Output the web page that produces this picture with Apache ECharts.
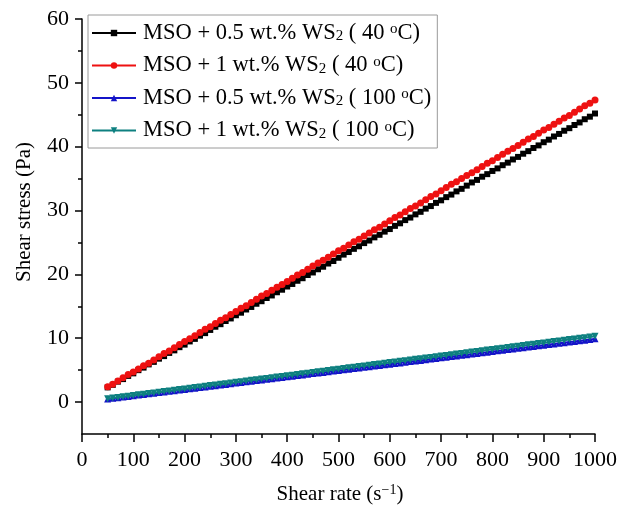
<!DOCTYPE html>
<html>
<head>
<meta charset="utf-8">
<script src="https://cdn.jsdelivr.net/npm/echarts@6/dist/echarts.min.js"></script>
<style>
html, body { margin: 0; padding: 0; background: #ffffff; }
#chart { width: 620px; height: 505px; }
</style>
</head>
<body>
<div id="chart"></div>
<script>
// Shear rate (s^-1) at which each stress reading was taken
const shearRate = [
  50, 60, 70, 80, 90, 100, 110, 120, 130, 140, 150, 160, 170, 180, 190, 200,
  210, 220, 230, 240, 250, 260, 270, 280, 290, 300, 310, 320, 330, 340, 350, 360,
  370, 380, 390, 400, 410, 420, 430, 440, 450, 460, 470, 480, 490, 500, 510, 520,
  530, 540, 550, 560, 570, 580, 590, 600, 610, 620, 630, 640, 650, 660, 670, 680,
  690, 700, 710, 720, 730, 740, 750, 760, 770, 780, 790, 800, 810, 820, 830, 840,
  850, 860, 870, 880, 890, 900, 910, 920, 930, 940, 950, 960, 970, 980, 990, 1000
];

// Shear stress (Pa), MSO + 0.5 wt.% WS2 at 40 °C
const stressHalf40 = [
  2.3, 2.7, 3.2, 3.6, 4.1, 4.5, 5.0, 5.4, 5.9, 6.3, 6.8, 7.2, 7.7, 8.1, 8.6, 9.0,
  9.5, 9.9, 10.4, 10.8, 11.3, 11.8, 12.2, 12.7, 13.1, 13.6, 14.0, 14.5, 14.9, 15.4, 15.8, 16.3,
  16.7, 17.2, 17.6, 18.1, 18.5, 19.0, 19.4, 19.9, 20.3, 20.8, 21.2, 21.7, 22.1, 22.6, 23.1, 23.5,
  24.0, 24.4, 24.9, 25.3, 25.8, 26.2, 26.7, 27.1, 27.6, 28.0, 28.5, 28.9, 29.4, 29.8, 30.3, 30.7,
  31.2, 31.6, 32.1, 32.5, 33.0, 33.4, 33.9, 34.4, 34.8, 35.3, 35.7, 36.2, 36.6, 37.1, 37.5, 38.0,
  38.4, 38.9, 39.3, 39.8, 40.2, 40.7, 41.1, 41.6, 42.0, 42.5, 42.9, 43.4, 43.8, 44.3, 44.7, 45.2
];

// Shear stress (Pa), MSO + 1 wt.% WS2 at 40 °C
const stressOne40 = [
  2.4, 2.8, 3.3, 3.8, 4.3, 4.7, 5.2, 5.7, 6.1, 6.6, 7.1, 7.6, 8.0, 8.5, 9.0, 9.5,
  9.9, 10.4, 10.9, 11.4, 11.8, 12.3, 12.8, 13.2, 13.7, 14.2, 14.7, 15.1, 15.6, 16.1, 16.6, 17.0,
  17.5, 18.0, 18.4, 18.9, 19.4, 19.9, 20.3, 20.8, 21.3, 21.8, 22.2, 22.7, 23.2, 23.7, 24.1, 24.6,
  25.1, 25.5, 26.0, 26.5, 27.0, 27.4, 27.9, 28.4, 28.9, 29.3, 29.8, 30.3, 30.7, 31.2, 31.7, 32.2,
  32.6, 33.1, 33.6, 34.1, 34.5, 35.0, 35.5, 35.9, 36.4, 36.9, 37.4, 37.8, 38.3, 38.8, 39.3, 39.7,
  40.2, 40.7, 41.2, 41.6, 42.1, 42.6, 43.0, 43.5, 44.0, 44.5, 44.9, 45.4, 45.9, 46.4, 46.8, 47.3
];

// Shear stress (Pa), MSO + 0.5 wt.% WS2 at 100 °C
const stressHalf100 = [
  0.50, 0.59, 0.69, 0.79, 0.89, 0.99, 1.09, 1.19, 1.29, 1.39, 1.49, 1.58, 1.68, 1.78, 1.88, 1.98,
  2.08, 2.18, 2.28, 2.38, 2.48, 2.57, 2.67, 2.77, 2.87, 2.97, 3.07, 3.17, 3.27, 3.37, 3.47, 3.56,
  3.66, 3.76, 3.86, 3.96, 4.06, 4.16, 4.26, 4.36, 4.46, 4.55, 4.65, 4.75, 4.85, 4.95, 5.05, 5.15,
  5.25, 5.35, 5.45, 5.54, 5.64, 5.74, 5.84, 5.94, 6.04, 6.14, 6.24, 6.34, 6.44, 6.53, 6.63, 6.73,
  6.83, 6.93, 7.03, 7.13, 7.23, 7.33, 7.43, 7.52, 7.62, 7.72, 7.82, 7.92, 8.02, 8.12, 8.22, 8.32,
  8.42, 8.51, 8.61, 8.71, 8.81, 8.91, 9.01, 9.11, 9.21, 9.31, 9.41, 9.50, 9.60, 9.70, 9.80, 9.90
];

// Shear stress (Pa), MSO + 1 wt.% WS2 at 100 °C
const stressOne100 = [
  0.52, 0.62, 0.72, 0.82, 0.93, 1.03, 1.13, 1.24, 1.34, 1.44, 1.55, 1.65, 1.75, 1.85, 1.96, 2.06,
  2.16, 2.27, 2.37, 2.47, 2.58, 2.68, 2.78, 2.88, 2.99, 3.09, 3.19, 3.30, 3.40, 3.50, 3.61, 3.71,
  3.81, 3.91, 4.02, 4.12, 4.22, 4.33, 4.43, 4.53, 4.64, 4.74, 4.84, 4.94, 5.05, 5.15, 5.25, 5.36,
  5.46, 5.56, 5.67, 5.77, 5.87, 5.97, 6.08, 6.18, 6.28, 6.39, 6.49, 6.59, 6.70, 6.80, 6.90, 7.00,
  7.11, 7.21, 7.31, 7.42, 7.52, 7.62, 7.73, 7.83, 7.93, 8.03, 8.14, 8.24, 8.34, 8.45, 8.55, 8.65,
  8.76, 8.86, 8.96, 9.06, 9.17, 9.27, 9.37, 9.48, 9.58, 9.68, 9.79, 9.89, 9.99, 10.09, 10.20, 10.30
];

const seriesNames = [
  'MSO + 0.5 wt.% WS{sub|2} ( 40 {sup|o}C)',
  'MSO + 1 wt.% WS{sub|2} ( 40 {sup|o}C)',
  'MSO + 0.5 wt.% WS{sub|2} ( 100 {sup|o}C)',
  'MSO + 1 wt.% WS{sub|2} ( 100 {sup|o}C)'
];

const yMajorTicks = [0, 10, 20, 30, 40, 50, 60];
const yMinorTicks = [5, 15, 25, 35, 45, 55];

const FONT = '"Liberation Serif", "Times New Roman", serif';

function pairs(ys) {
  return shearRate.map((x, i) => [x, ys[i]]);
}

const chart = echarts.init(document.getElementById('chart'), null, { renderer: 'canvas' });

const styles = [
  { color: '#000000', symbol: 'rect', size: 6, rotate: 0, data: stressHalf40 },
  { color: '#ee1111', symbol: 'circle', size: 7, rotate: 0, data: stressOne40 },
  { color: '#1414c8', symbol: 'triangle', size: 7, rotate: 0, data: stressHalf100 },
  { color: '#0e8080', symbol: 'triangle', size: 7, rotate: 180, data: stressOne100 }
];

const yBase = {
  type: 'value',
  min: -5,
  max: 60,
  position: 'left',
  splitLine: { show: false }
};

chart.setOption({
  animation: false,
  backgroundColor: '#ffffff',
  grid: { left: 82, right: 23, top: 19, bottom: 71, containLabel: false },
  legend: {
    orient: 'vertical',
    left: 88,
    top: 15,
    padding: [5, 6, 6, 3],
    itemGap: 8,
    itemWidth: 44,
    itemHeight: 8,
    borderColor: '#9a9a9a',
    borderWidth: 1,
    backgroundColor: '#ffffff',
    formatter: name => name,
    textStyle: {
      fontFamily: FONT,
      fontSize: 22.5,
      color: '#000',
      lineHeight: 22,
      padding: [0, 0, 0, 2],
      rich: {
        sub: { fontFamily: FONT, fontSize: 15, lineHeight: 12, verticalAlign: 'bottom', padding: [9, 0, 0, 0], color: '#000' },
        sup: { fontFamily: FONT, fontSize: 15, lineHeight: 12, verticalAlign: 'top', padding: [0, 0, 7, 0], color: '#000' }
      }
    },
    data: seriesNames
  },
  xAxis: {
    type: 'value',
    min: 0,
    max: 1000,
    interval: 100,
    axisLine: { onZero: false, lineStyle: { color: '#000', width: 1.5 } },
    axisTick: { show: true, inside: false, length: 8, lineStyle: { color: '#000', width: 1.5 } },
    minorTick: { show: true, splitNumber: 2, length: 4, lineStyle: { color: '#000', width: 1.5 } },
    axisLabel: { fontFamily: FONT, fontSize: 22, color: '#000', margin: 15, formatter: v => String(v) },
    splitLine: { show: false }
  },
  yAxis: [
    Object.assign({}, yBase, {
      axisLine: { show: true, lineStyle: { color: '#000', width: 1.5 } },
      axisTick: { show: true, inside: false, length: 7, customValues: yMajorTicks, lineStyle: { color: '#000', width: 1.5 } },
      axisLabel: { fontFamily: FONT, fontSize: 22, color: '#000', margin: 13, customValues: yMajorTicks }
    }),
    Object.assign({}, yBase, {
      axisLine: { show: false },
      axisTick: { show: true, inside: false, length: 4, customValues: yMinorTicks, lineStyle: { color: '#000', width: 1.5 } },
      axisLabel: { show: false }
    })
  ],
  graphic: [
    {
      type: 'text',
      x: 340,
      y: 494,
      style: {
        text: 'Shear rate (s{sup|\u22121})',
        fontFamily: FONT,
        fontSize: 21,
        fill: '#000',
        align: 'center',
        verticalAlign: 'middle',
        rich: {
          sup: { fontFamily: FONT, fontSize: 14, fill: '#000', verticalAlign: 'top', padding: [0, 0, 8, 0] }
        }
      }
    },
    {
      type: 'text',
      x: 24,
      y: 212,
      rotation: Math.PI / 2,
      style: {
        text: 'Shear stress (Pa)',
        fontFamily: FONT,
        fontSize: 21,
        fill: '#000',
        align: 'center',
        verticalAlign: 'middle'
      }
    }
  ],
  series: styles.map((s, i) => ({
    name: seriesNames[i],
    type: 'line',
    yAxisIndex: 0,
    data: pairs(s.data),
    symbol: s.symbol,
    symbolSize: s.size,
    symbolRotate: s.rotate,
    showSymbol: true,
    lineStyle: { color: s.color, width: 2 },
    itemStyle: { color: s.color, borderWidth: 0 },
    z: 2 + i
  }))
});
</script>
</body>
</html>
